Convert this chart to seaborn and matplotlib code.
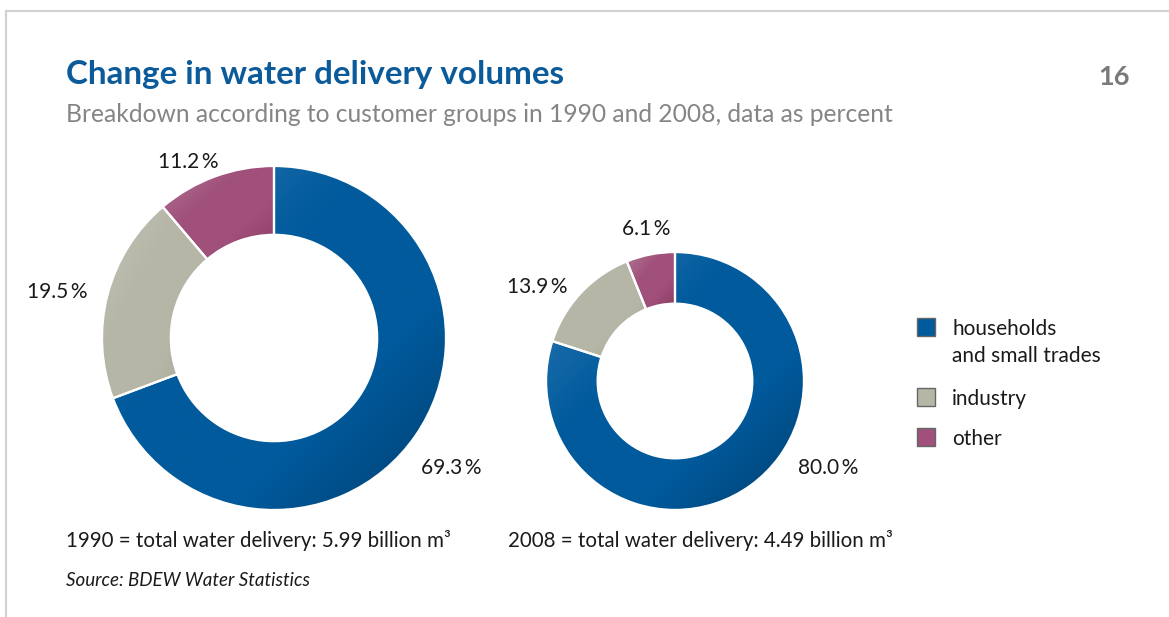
import numpy as np
import matplotlib
matplotlib.use("Agg")
import matplotlib.pyplot as plt
import seaborn as sns
from matplotlib.colors import LinearSegmentedColormap
from matplotlib.lines import Line2D
from matplotlib.patches import Rectangle

# ---- data ----
groups = ["households\nand small trades", "industry", "other"]
share_1990 = [69.3, 19.5, 11.2]
share_2008 = [80.0, 13.9, 6.1]
total_1990 = 5.99  # billion m3
total_2008 = 4.49  # billion m3
years = ["1990", "2008"]

# light / base / dark tone of each segment's shading
light_cols = ["#2f79b3", "#c4c4b8", "#b27695"]
base_cols = ["#005a9c", "#b6b6a7", "#a0507a"]
dark_cols = ["#003f70", "#a5a594", "#8a3a62"]

sns.set_theme(style="white")
plt.rcParams["font.family"] = ["Lato", "DejaVu Sans"]

W, H = 1169, 617
fig = plt.figure(figsize=(W / 100, H / 100), dpi=100)
ax = fig.add_axes([0, 0, 1, 1])

def Y(y):
    return H - y

TXT = "#1a1a1a"

def shaded_donut(values, cx, cy, radius):
    wedges, _ = ax.pie(values, radius=radius, center=(cx, Y(cy)), startangle=90,
                       counterclock=False, colors=base_cols,
                       wedgeprops=dict(width=0.4 * radius, edgecolor="white", linewidth=1.6))
    for w, lc, bc, dc in zip(wedges, light_cols, base_cols, dark_cols):
        ext = w.get_path().get_extents()
        xs = np.linspace(0, 1, 240)
        ys = np.linspace(0, 1, 240)
        xx, yy = np.meshgrid(xs, ys)
        grad = (xx + (1 - yy)) / 2
        cmap = LinearSegmentedColormap.from_list(
            "g", [(0.0, lc), (0.38, bc), (0.68, bc), (1.0, dc)])
        im = ax.imshow(grad, cmap=cmap, extent=(ext.x0, ext.x1, ext.y0, ext.y1),
                       origin="lower", aspect="auto", zorder=2, interpolation="bilinear")
        im.set_clip_path(w)
        w.set_facecolor("none")
        w.set_zorder(3)
    return wedges

# donut radius scales with total delivery volume
r1 = 172
r2 = r1 * total_2008 / total_1990
shaded_donut(share_1990, 274, 338, r1)
shaded_donut(share_2008, 675, 381, r2)

ax.set_xlim(0, W)
ax.set_ylim(0, H)
ax.set_aspect("auto")
ax.axis("off")

def pct(v):
    return f"{v:.1f}\u2009%"

# value labels
lab_1990 = [(451, 468), (57, 292), (188, 162)]
lab_2008 = [(828, 468), (537, 287), (646, 229)]
for vals, pos in ((share_1990, lab_1990), (share_2008, lab_2008)):
    for v, (x, y) in zip(vals, pos):
        ax.text(x, Y(y), pct(v), ha="center", va="center", fontsize=15, color=TXT)

# titles
ax.text(66, Y(84), "Change in water delivery volumes", fontsize=23.9, fontweight="bold",
        color="#0b5a9a", ha="left", va="baseline")
ax.text(66, Y(122), "Breakdown according to customer groups in 1990 and 2008, data as percent",
        fontsize=17.7, color="#858585", ha="left", va="baseline")
ax.text(1130, Y(85), "16", fontsize=19.5, fontweight="bold", color="#7a7a7a",
        ha="right", va="baseline")

# totals and source
ax.text(66, Y(547), f"{years[0]} = total water delivery: {total_1990:.2f} billion m³",
        fontsize=14.8, color=TXT, ha="left", va="baseline")
ax.text(508, Y(547), f"{years[1]} = total water delivery: {total_2008:.2f} billion m³",
        fontsize=14.8, color=TXT, ha="left", va="baseline")
ax.text(66, Y(586), "Source: BDEW Water Statistics", fontsize=13.5, style="italic",
        color=TXT, ha="left", va="baseline")

# legend
leg_y = [327, 397, 437]
for g, c, y in zip(groups, base_cols, leg_y):
    ax.add_patch(Rectangle((917, Y(y) - 9), 18, 18, facecolor=c, edgecolor="#666666",
                           linewidth=1.0, zorder=4))
    ax.text(952, Y(y) + 8, g, fontsize=15, color=TXT, ha="left", va="top",
            linespacing=1.45)

# page frame
fig.add_artist(Line2D([6 / W, 1], [1 - 11 / H, 1 - 11 / H], color="#d2d2d2", lw=1.6,
                      transform=fig.transFigure))
fig.add_artist(Line2D([6 / W, 6 / W], [0, 1 - 11 / H], color="#d2d2d2", lw=1.6,
                      transform=fig.transFigure))

fig.savefig("out.png", dpi=100, facecolor="white")
